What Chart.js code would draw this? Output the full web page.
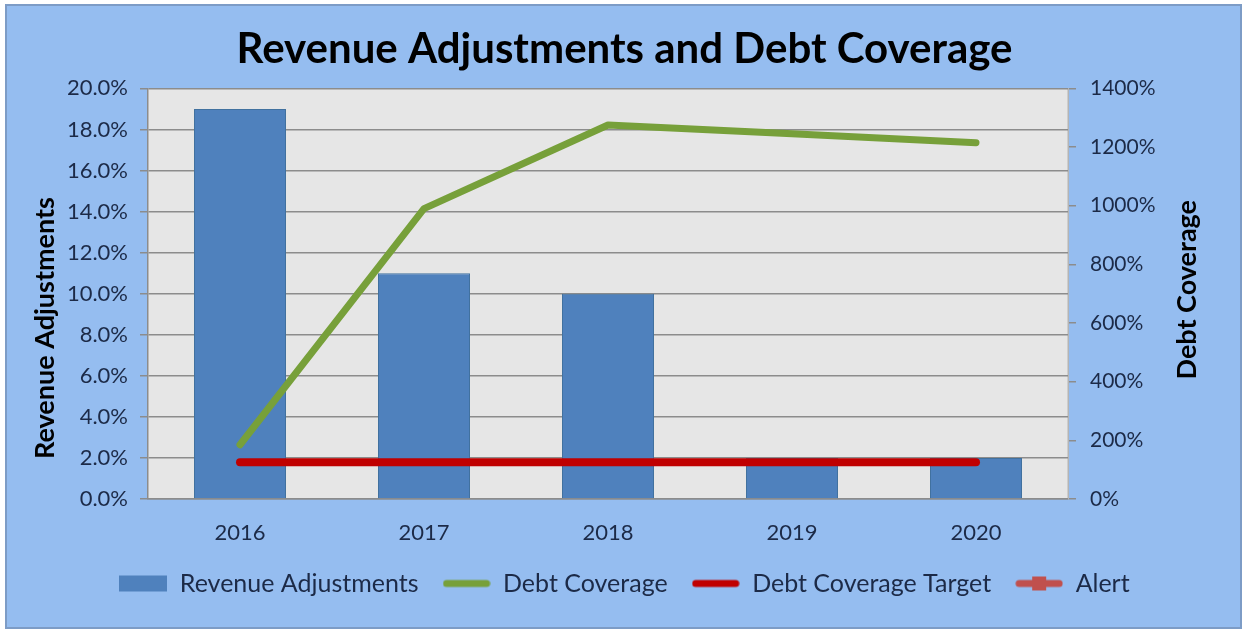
<!DOCTYPE html>
<html>
<head>
<meta charset="utf-8">
<title>Revenue Adjustments and Debt Coverage</title>
<script src="https://cdn.jsdelivr.net/npm/chart.js@4.4.1/dist/chart.umd.min.js"></script>
<style>
  html, body { margin: 0; padding: 0; background: #ffffff; }
  #wrap { position: relative; width: 1247px; height: 634px; }
</style>
</head>
<body>
<div id="wrap"><canvas id="chartDeuda"></canvas></div>
<script>
// datos
const anios = ['2016', '2017', '2018', '2019', '2020'];
const ajustesIngreso = [0.19, 0.11, 0.10, 0.02, 0.02];
const coberturaDeuda = [1.85, 9.9, 12.75, 12.45, 12.15];
const metaCobertura = [1.25, 1.25, 1.25, 1.25, 1.25];
const alerta = [null, null, null, null, null];
const nombresSeries = ['Revenue Adjustments', 'Debt Coverage', 'Debt Coverage Target', 'Alert'];

const FUENTE = 'Lato, "Open Sans", sans-serif';
const AZUL = '#4f81bd';
const VERDE = '#77a03a';
const ROJO = '#c00000';
const ROJO_ALERTA = '#c0504d';
const TEXTO = '#1c2a47';

// iconos de la leyenda
const iconoLeyenda = (tipo, color) => {
    const c = document.createElement('canvas');
    c.width = 48;
    c.height = 20;
    const ctx = c.getContext('2d');
    if (tipo === 'barra') {
        ctx.fillStyle = color;
        ctx.fillRect(0, 2, 48, 16);
    } else {
        ctx.strokeStyle = color;
        ctx.lineWidth = 7;
        ctx.lineCap = 'round';
        ctx.beginPath();
        ctx.moveTo(4, 10);
        ctx.lineTo(44, 10);
        ctx.stroke();
        if (tipo === 'marca') {
            ctx.fillStyle = color;
            ctx.fillRect(17, 3, 14, 14);
        }
    }
    return c;
};
const iconos = [
    iconoLeyenda('barra', AZUL),
    iconoLeyenda('linea', VERDE),
    iconoLeyenda('linea', ROJO),
    iconoLeyenda('marca', ROJO_ALERTA)
];

// titulo vertical de un eje
const tituloEje = (ctx, texto, x, y) => {
    ctx.save();
    ctx.translate(x, y);
    ctx.rotate(-Math.PI / 2);
    ctx.fillStyle = '#000000';
    ctx.font = 'bold 27px ' + FUENTE;
    ctx.textAlign = 'center';
    ctx.textBaseline = 'middle';
    ctx.fillText(texto, 0, 0);
    ctx.restore();
};

// fondo azul del grafico, fondo gris del area de trazado y titulos de ejes
const fondos = {
    id: 'fondos',
    beforeDraw(chart) {
        const { ctx, chartArea: a } = chart;
        ctx.save();
        ctx.fillStyle = '#95bdf0';
        ctx.fillRect(6, 5, 1235, 623);
        ctx.strokeStyle = '#7d9cc6';
        ctx.lineWidth = 2;
        ctx.strokeRect(6, 5, 1235, 623);
        ctx.fillStyle = '#e6e6e6';
        ctx.fillRect(a.left, a.top, a.right - a.left, a.bottom - a.top);
        ctx.strokeStyle = '#b4b4b4';
        ctx.lineWidth = 1;
        ctx.beginPath();
        ctx.moveTo(a.right, a.top);
        ctx.lineTo(a.right, a.bottom);
        ctx.stroke();
        ctx.restore();
    },
    afterDraw(chart) {
        const { ctx, chartArea: a } = chart;
        tituloEje(ctx, 'Revenue Adjustments', 45, 328);
        tituloEje(ctx, 'Debt Coverage', 1187, (a.top + a.bottom) / 2 - 4);
    }
};

const ctxDeuda = document.getElementById('chartDeuda').getContext('2d');

new Chart(ctxDeuda, {
    data: {
        labels: anios,
        datasets: [
            {
                type: 'bar',
                label: nombresSeries[0],
                data: ajustesIngreso,
                backgroundColor: AZUL,
                borderColor: '#41719f',
                borderWidth: 1,
                barPercentage: 1,
                categoryPercentage: 0.5,
                yAxisID: 'y',
                order: 4
            },
            {
                type: 'line',
                label: nombresSeries[1],
                data: coberturaDeuda,
                borderColor: VERDE,
                borderWidth: 7,
                borderCapStyle: 'round',
                borderJoinStyle: 'round',
                pointRadius: 0,
                tension: 0,
                yAxisID: 'y1',
                order: 2
            },
            {
                type: 'line',
                label: nombresSeries[2],
                data: metaCobertura,
                borderColor: ROJO,
                borderWidth: 8,
                borderCapStyle: 'round',
                pointRadius: 0,
                yAxisID: 'y1',
                order: 1
            },
            {
                type: 'line',
                label: nombresSeries[3],
                data: alerta,
                borderColor: ROJO_ALERTA,
                backgroundColor: ROJO_ALERTA,
                pointStyle: 'rect',
                yAxisID: 'y1',
                order: 3
            }
        ]
    },
    options: {
        responsive: true,
        maintainAspectRatio: false,
        animation: false,
        layout: {
            padding: { top: 12, left: 30, right: 28, bottom: 28 }
        },
        plugins: {
            tooltip: { enabled: false },
            title: {
                display: true,
                text: 'Revenue Adjustments and Debt Coverage',
                color: '#000000',
                font: { family: FUENTE, size: 42, weight: 'bold' },
                padding: { top: 12, bottom: 14 }
            },
            legend: {
                position: 'bottom',
                labels: {
                    usePointStyle: true,
                    pointStyleWidth: 48,
                    boxHeight: 20,
                    padding: 24,
                    color: TEXTO,
                    font: { family: FUENTE, size: 25 },
                    generateLabels: (chart) => chart.data.datasets.map((ds, i) => ({
                        text: ds.label,
                        fontColor: TEXTO,
                        pointStyle: iconos[i],
                        fillStyle: 'transparent',
                        strokeStyle: 'transparent',
                        lineWidth: 0,
                        hidden: false,
                        datasetIndex: i
                    }))
                }
            }
        },
        scales: {
            x: {
                grid: { display: false },
                border: { color: '#8c8c8c', width: 1.5 },
                ticks: {
                    color: TEXTO,
                    padding: 13,
                    font: { family: FUENTE, size: 22 }
                },
                afterFit: (s) => { s.height = 48; }
            },
            y: {
                position: 'left',
                min: 0,
                max: 0.2,
                grid: { color: '#8c8c8c', lineWidth: 1.5, tickLength: 8 },
                border: { color: '#8c8c8c', width: 1.5 },
                ticks: {
                    stepSize: 0.02,
                    color: TEXTO,
                    padding: 12,
                    font: { family: FUENTE, size: 22 },
                    callback: (v) => (v * 100).toFixed(1) + '%'
                },
                afterFit: (s) => { s.width = 118; }
            },
            y1: {
                position: 'right',
                min: 0,
                max: 14,
                grid: { drawOnChartArea: false, color: '#8c8c8c', lineWidth: 1.5, tickLength: 8 },
                border: { color: '#b4b4b4', width: 1 },
                ticks: {
                    stepSize: 2,
                    color: TEXTO,
                    padding: 14,
                    font: { family: FUENTE, size: 21 },
                    callback: (v) => Math.round(v * 100) + '%'
                },
                afterFit: (s) => { s.width = 151; }
            }
        }
    },
    plugins: [fondos]
});
</script>
</body>
</html>
